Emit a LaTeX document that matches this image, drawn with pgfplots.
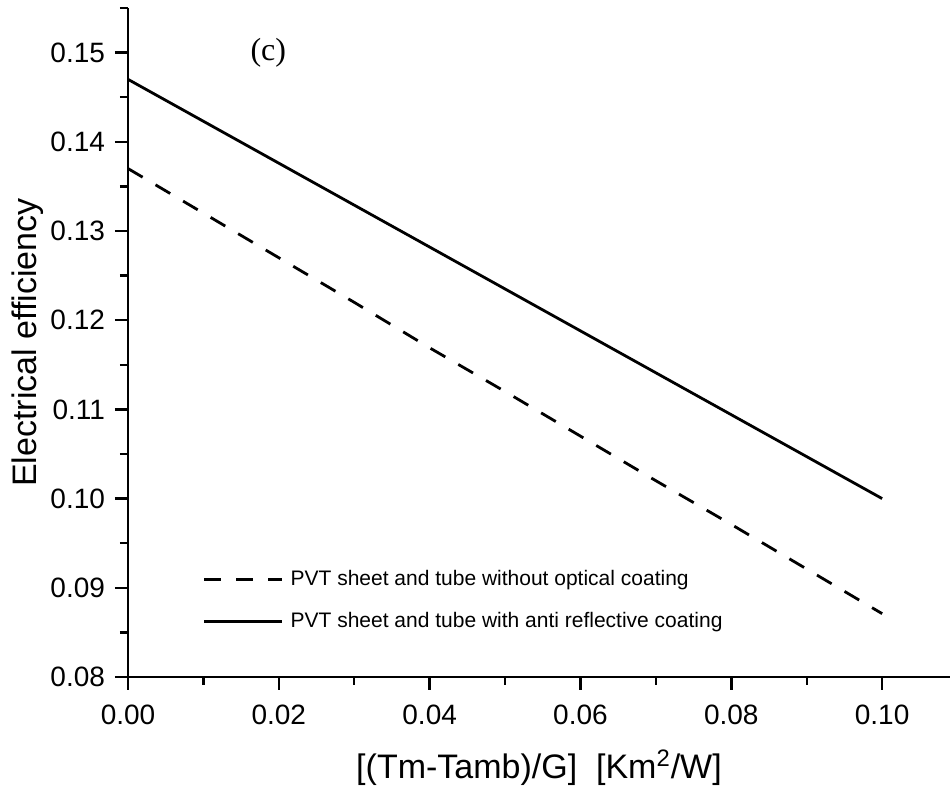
\documentclass[border=0pt]{standalone}
\usepackage{fontspec}
\setmainfont{Liberation Sans}
\newfontfamily\serifc{Liberation Serif}
\usepackage{pgfplots}
\pgfplotsset{compat=1.18}
\begin{document}
\begin{tikzpicture}
\begin{axis}[
  name=ax,
  scale only axis,
  width=411bp, height=334.5bp,
  xmin=0, xmax=0.109,
  ymin=0.08, ymax=0.155,
  axis x line=bottom, axis y line=left,
  axis line style={-, line width=1.4bp},
  tick align=outside,
  major tick length=6.5bp, minor tick length=4bp,
  every tick/.style={black, line width=1.2bp},
  xtick={0,0.02,0.04,0.06,0.08,0.10},
  minor xtick={0.01,0.03,0.05,0.07,0.09},
  ytick={0.08,0.09,0.10,0.11,0.12,0.13,0.14,0.15},
  minor ytick={0.085,0.095,0.105,0.115,0.125,0.135,0.145,0.155},
  scaled ticks=false,
  /pgf/number format/assume math mode=true,
  xticklabel style={/pgf/number format/.cd, fixed, fixed zerofill, precision=2, /tikz/.cd, yshift=-4bp},
  yticklabel style={/pgf/number format/.cd, fixed, fixed zerofill, precision=2, /tikz/.cd, xshift=-1.5bp},
  ticklabel style={font=\fontsize{14bp}{16bp}\selectfont},
  xlabel={[(Tm-Tamb)/G]\ \ [Km\textsuperscript{2}/W]},
  ylabel={Electrical efficiency},
  label style={font=\fontsize{17bp}{20bp}\selectfont},
  xlabel style={at={(axis description cs:0.5,-0.136)}, anchor=center},
  ylabel style={at={(axis description cs:-0.1217,0.5)}, anchor=center},
  legend style={at={(axis description cs:0.0905,0.160)}, anchor=north west, draw=none, fill=none,
    font=\fontsize{10.5bp}{12bp}\selectfont, inner sep=0pt, row sep=12bp,
    nodes={inner xsep=3.5bp, inner ysep=0pt}},
  legend cell align=left,
  legend image code/.code={\draw[#1] (0bp,0bp) -- (39bp,0bp);},
  clip=false,
]
\addplot[black, line width=1.4bp, dash pattern=on 8.5bp off 7.5bp] coordinates {
  (0,0.137) (0.01,0.132) (0.02,0.127) (0.03,0.122) (0.04,0.1169) (0.05,0.112)
  (0.06,0.107) (0.07,0.102) (0.08,0.0971) (0.09,0.0921) (0.10,0.0871)};
\addlegendentry{PVT sheet and tube without optical coating}
\addplot[black, line width=1.4bp] coordinates {
  (0,0.147) (0.01,0.1423) (0.02,0.1376) (0.03,0.1329) (0.04,0.1282) (0.05,0.1235)
  (0.06,0.1188) (0.07,0.1141) (0.08,0.1094) (0.09,0.1047) (0.10,0.1000)};
\addlegendentry{PVT sheet and tube with anti reflective coating}
\node[font=\serifc\fontsize{16bp}{18bp}\selectfont] at (axis cs:0.0186,0.15) {(c)};
\end{axis}
\pgfresetboundingbox
\path[use as bounding box] ([shift={(-64bp,-55bp)}]ax.south west) rectangle ([shift={(0bp,4bp)}]ax.north east);
\end{tikzpicture}
\end{document}
